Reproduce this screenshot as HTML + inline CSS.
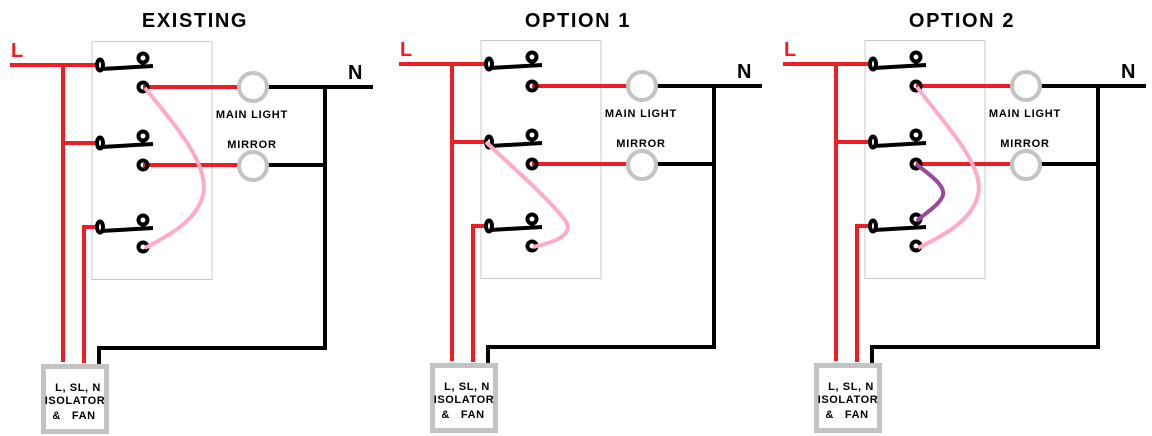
<!DOCTYPE html>
<html><head><style>
html,body{margin:0;padding:0;background:#fff;}
svg{display:block;}
text{font-family:"Liberation Sans",sans-serif;font-weight:bold;}
</style></head><body>
<svg width="1152" height="436" viewBox="0 0 1152 436" xmlns="http://www.w3.org/2000/svg">
<defs>
<g id="panel">
  <rect x="92" y="41.5" width="120" height="238" fill="none" stroke="#c8c8c8" stroke-width="1"/>
  <text x="11" y="57" font-size="20" fill="#ee1c24">L</text>
  <text x="348" y="79" font-size="20" fill="#000">N</text>
  <g stroke="#ee1c24" stroke-width="4" fill="none">
    <path d="M10 65 H98"/>
    <path d="M63 65 V362"/>
    <path d="M63 143 H98"/>
    <path d="M84 363 V227 H98"/>
    <path d="M143 87 H238"/>
    <path d="M143 165 H238"/>
  </g>
  <g stroke="#000" stroke-width="4" fill="none">
    <path d="M268 87 H373"/>
    <path d="M325 87 V348 H99 V366"/>
    <path d="M268 165 H325"/>
  </g>
  <g stroke="#000" stroke-width="4" fill="none">
    <g id="sw">
      <ellipse cx="100" cy="65" rx="3" ry="5.5"/>
      <path d="M101 69 L153 66"/>
      <circle cx="143" cy="58" r="4.5"/>
      <path d="M143 62 V67"/>
    </g>
    <use href="#sw" y="78"/>
    <use href="#sw" y="162"/>
    <circle cx="143" cy="87" r="4.5"/>
    <circle cx="143" cy="165" r="4.5"/>
    <circle cx="143" cy="247" r="4.5"/>
  </g>
  <circle cx="253" cy="87" r="14" fill="#fff" stroke="#c3c3c3" stroke-width="4"/>
  <circle cx="253" cy="166" r="14" fill="#fff" stroke="#c3c3c3" stroke-width="4"/>
  <text x="252" y="118" font-size="11" text-anchor="middle" letter-spacing="0.8">MAIN LIGHT</text>
  <text x="252" y="148" font-size="11" text-anchor="middle" letter-spacing="0.8">MIRROR</text>
  <rect x="43.5" y="366.5" width="63" height="65" fill="#fff" stroke="#c3c3c3" stroke-width="5"/>
  <text x="78" y="391" font-size="11" text-anchor="middle" letter-spacing="0.6">L, SL, N</text>
  <text x="75" y="404" font-size="11" text-anchor="middle" letter-spacing="0.6">ISOLATOR</text>
  <text x="74" y="419" font-size="11" text-anchor="middle" xml:space="preserve" letter-spacing="0.6">&amp;   FAN</text>
</g>
</defs>

<text x="195" y="27" font-size="20" text-anchor="middle" letter-spacing="1.6">EXISTING</text>
<text x="578" y="27" font-size="20" text-anchor="middle" letter-spacing="1.6">OPTION 1</text>
<text x="962" y="27" font-size="20" text-anchor="middle" letter-spacing="1.6">OPTION 2</text>

<use href="#panel"/>
<path d="M145 88 C175 125 210 165 203 195 C197 220 170 235 145 248" stroke="#ffaac8" stroke-width="4" fill="none"/>

<use href="#panel" x="389" y="-1"/>
<path d="M486 142 C510 165 545 195 565 220 C575 235 555 242 533 247" stroke="#ffaac8" stroke-width="4" fill="none"/>

<use href="#panel" x="773" y="-1"/>
<path d="M917 87 C945 125 985 165 978 195 C972 220 945 235 918 248" stroke="#ffaac8" stroke-width="4" fill="none"/>
<path d="M916 164 C930 175 945 185 943 195 C940 205 925 213 917 221" stroke="#9b479f" stroke-width="4" fill="none"/>
</svg>
</body></html>
